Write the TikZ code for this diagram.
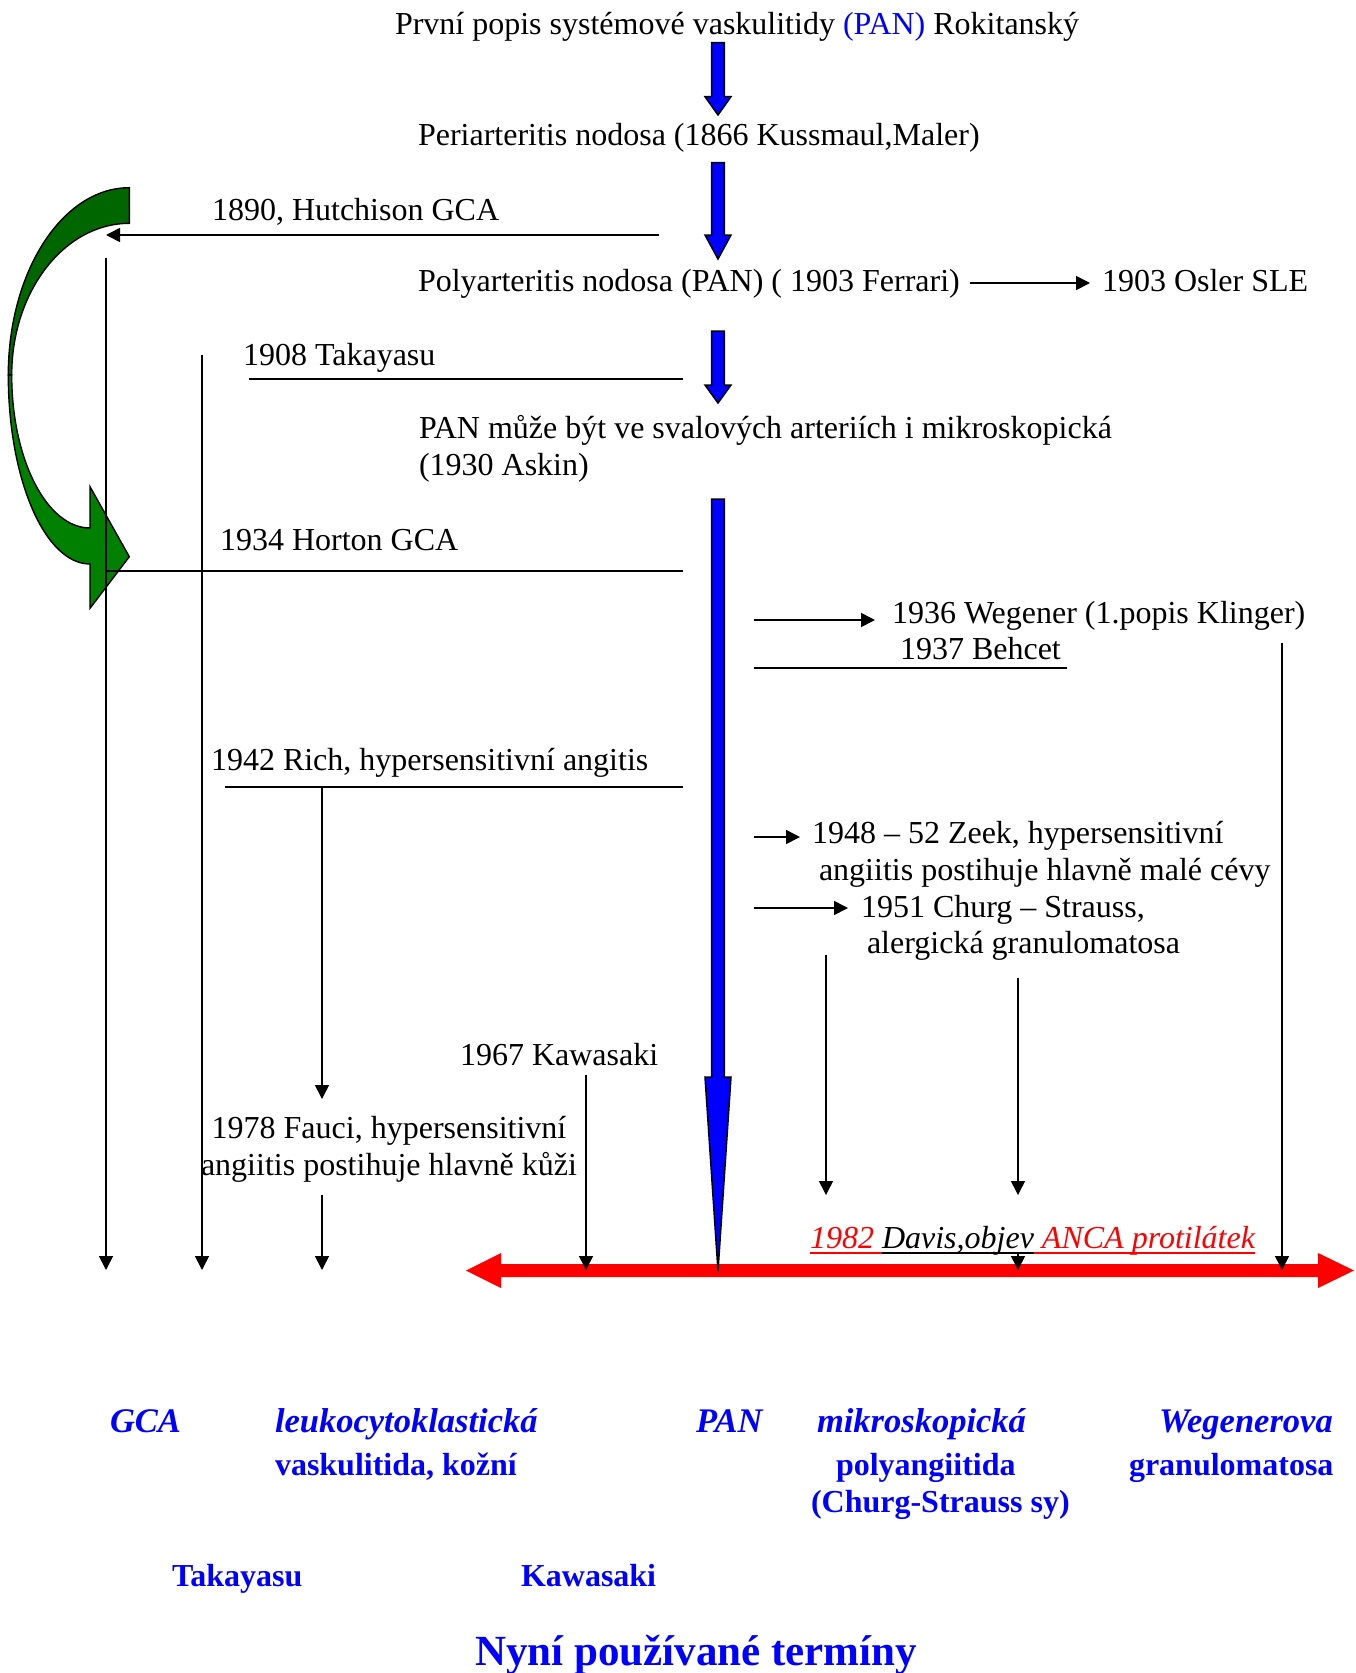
\documentclass[tikz,border=0pt]{standalone}
\usepackage{fontspec}
\setmainfont{Liberation Serif}
\usetikzlibrary{arrows.meta,calc}
\definecolor{pblue}{RGB}{0,0,255}
\definecolor{pred}{RGB}{255,0,0}
\definecolor{gdark}{RGB}{0,102,0}
\definecolor{glight}{RGB}{0,128,0}
\newcommand\bluearrow[3]{%
  \draw[blockarrow] (711.7,#1) -- (724.3,#1) -- (724.3,#2) -- (731,#2) -- (718,#3) -- (705,#2) -- (711.7,#2) -- cycle;}
\begin{document}
\begin{tikzpicture}[x=1pt,y=-1pt,
  txt/.style={anchor=base west,inner sep=0pt,outer sep=0pt,font=\fontsize{32}{38}\selectfont},
  term/.style={anchor=base west,inner sep=0pt,outer sep=0pt,text=pblue,font=\fontsize{32}{38}\selectfont\bfseries},
  termi/.style={anchor=base west,inner sep=0pt,outer sep=0pt,text=pblue,font=\fontsize{34.5}{40}\selectfont\bfseries\itshape},
  conn/.style={line width=1.6pt},
  arr/.style={conn,-{Triangle[length=14pt,width=14pt]}},
  blockarrow/.style={fill=pblue,draw=black,line width=1.5pt,line join=miter},
  greenband/.style={draw=black,line width=1.4pt,line join=miter}
]
\fill[white] (0,0) rectangle (1355,1673);
\useasboundingbox (0,0) rectangle (1355,1673);

% ---------- red time axis ----------
\fill[pred] (466,1270.5) -- (501,1253) -- (501,1264) -- (1318,1264) -- (1318,1253) -- (1354,1270.5) -- (1318,1288) -- (1318,1277) -- (501,1277) -- (501,1288) -- cycle;

% ---------- texts ----------
\node[txt] (t0) at (395,34) {První popis systémové vaskulitidy \textcolor{pblue}{(PAN)} Rokitanský};
\node[txt] (t1) at (418,145) {Periarteritis nodosa (1866 Kussmaul,Maler)};
\node[txt] (t2) at (418,291) {Polyarteritis nodosa (PAN) ( 1903 Ferrari)};
\node[txt] (osler) at (1102,291) {1903 Osler SLE};
\node[txt] (t3) at (419,438) {PAN může být ve svalových arteriích i mikroskopická};
\node[txt] (t3b) at (419,475) {(1930 Askin)};
\node[txt] (hutch) at (212,220) {1890, Hutchison GCA};
\node[txt] (taka) at (243,365) {1908 Takayasu};
\node[txt] (horton) at (220,550) {1934 Horton GCA};
\node[txt] (weg) at (892,623) {1936 Wegener (1.popis Klinger)};
\node[txt] (behcet) at (900,659) {1937 Behcet};
\node[txt] (rich) at (211,770) {1942 Rich, hypersensitivní angitis};
\node[txt] (zeek) at (812,843) {1948 – 52 Zeek, hypersensitivní};
\node[txt] (zeekb) at (819,880) {angiitis postihuje hlavně malé cévy};
\node[txt] (churg) at (861,917) {1951 Churg – Strauss,};
\node[txt] (churgb) at (867,953) {alergická granulomatosa};
\node[txt] (kawa) at (460,1065) {1967 Kawasaki};
\node[txt,anchor=base] (fauci) at (389,1138) {1978 Fauci, hypersensitivní};
\node[txt,anchor=base] (faucib) at (389,1175) {angiitis postihuje hlavně kůži};

% ---------- green curved arrow ----------
\draw[greenband,fill=gdark] (129.3,187.7) .. controls (62.5,187.7) and (8.3,271.6) .. (8.3,375)
  -- (11.7,375) .. controls (11.7,291.3) and (64.4,223.3) .. (129.3,223.3) -- cycle;
\draw[greenband,fill=glight] (8.3,375) .. controls (8.3,479.3) and (44.9,564) .. (90,564)
  -- (90,608.3) -- (129.3,556.7) -- (90,486.7) -- (90,528)
  .. controls (46.8,528) and (11.7,459.5) .. (11.7,375) -- cycle;

% ---------- blue arrows ----------
\bluearrow{42.7}{96.7}{115}
\bluearrow{162.7}{235}{259}
\bluearrow{331}{385}{403}
\draw[blockarrow] (711.7,499) -- (724.3,499) -- (724.3,1077) -- (731,1077) -- (718,1271) -- (705,1077) -- (711.7,1077) -- cycle;

% ---------- coordinates ----------
\coordinate (hutchR) at (658.5,235);
\coordinate (hutchL) at (106,235);
\coordinate (gcaTop) at (106,258);
\coordinate (gcaBot) at (106,1270);
\coordinate (takTop) at (202,355);
\coordinate (takBot) at (202,1270);
\coordinate (takL) at (249,379);
\coordinate (takR) at (683,379);
\coordinate (horL) at (106,571);
\coordinate (horR) at (683,571);
\coordinate (richL) at (225,787);
\coordinate (richR) at (683,787);
\coordinate (richDown) at (322,787);
\coordinate (richTip) at (322,1099);
\coordinate (fauTop) at (322,1195);
\coordinate (fauBot) at (322,1270);
\coordinate (kawTop) at (586,1075);
\coordinate (kawBot) at (586,1270);
\coordinate (oslL) at (970,283);
\coordinate (oslR) at (1090,283);
\coordinate (wegL) at (753.5,620);
\coordinate (wegR) at (875,620);
\coordinate (behL) at (753.5,668);
\coordinate (behR) at (1067,668);
\coordinate (zeekL) at (753.5,837);
\coordinate (zeekR) at (800,837);
\coordinate (chL) at (753.5,908);
\coordinate (chR) at (848,908);
\coordinate (mpaTop) at (826,955);
\coordinate (mpaBot) at (826,1195);
\coordinate (csTop) at (1018,978);
\coordinate (csBot) at (1018,1195);
\coordinate (csTop2) at (1018,1254);
\coordinate (csBot2) at (1018,1270);
\coordinate (wgTop) at (1282,643);
\coordinate (wgBot) at (1282,1270);

% ---------- connectors ----------
\draw[arr] (hutchR) -- (hutchL);
\draw[arr] (gcaTop) -- (gcaBot);
\draw[arr] (takTop) -- (takBot);
\draw[conn] (takL) -- (takR);
\draw[conn] (horL) -- (horR);
\draw[conn] (richL) -- (richR);
\draw[arr] (richDown) -- (richTip);
\draw[arr] (fauTop) -- (fauBot);
\draw[arr] (kawTop) -- (kawBot);
\draw[arr] (oslL) -- (oslR);
\draw[arr] (wegL) -- (wegR);
\draw[conn] (behL) -- (behR);
\draw[arr] (zeekL) -- (zeekR);
\draw[arr] (chL) -- (chR);
\draw[arr] (mpaTop) -- (mpaBot);
\draw[arr] (csTop) -- (csBot);
\draw[arr] (csTop2) -- (csBot2);
\draw[arr] (wgTop) -- (wgBot);

% ---------- 1982 ----------
\node[txt,text=pred,font=\fontsize{32}{38}\selectfont\itshape] (u1) at (810,1248) {1982\kern8pt};
\node[txt,font=\fontsize{32}{38}\selectfont\itshape] (u2) at (u1.base east) {Davis,objev};
\node[txt,text=pred,font=\fontsize{32}{38}\selectfont\itshape] (u3) at (u2.base east) {\kern8pt ANCA protilátek};
\draw[pred,line width=1.5pt] ([yshift=-5pt]u1.base west) -- ([yshift=-5pt]u1.base east);
\draw[black,line width=1.5pt] ([yshift=-5pt]u2.base west) -- ([yshift=-5pt]u2.base east);
\draw[pred,line width=1.5pt] ([yshift=-5pt]u3.base west) -- ([yshift=-5pt]u3.base east);

% ---------- current terms ----------
\node[termi] (gca) at (110,1432) {GCA};
\node[termi] (leuko) at (275,1432) {leukocytoklastická};
\node[term] (leukob) at (275,1475) {vaskulitida, kožní};
\node[termi] (pan) at (696,1432) {PAN};
\node[termi] (mikro) at (817,1432) {mikroskopická};
\node[term] (mikrob) at (836,1475) {polyangiitida};
\node[term] (mikroc) at (811,1512) {(Churg-Strauss sy)};
\node[termi] (wegt) at (1159,1432) {Wegenerova};
\node[term] (wegtb) at (1129,1475) {granulomatosa};
\node[term] (takt) at (172,1586) {Takayasu};
\node[term] (kawt) at (521,1586) {Kawasaki};
\node[term,font=\fontsize{43}{50}\selectfont\bfseries] (title) at (475,1665) {Nyní používané termíny};
\end{tikzpicture}
\end{document}
